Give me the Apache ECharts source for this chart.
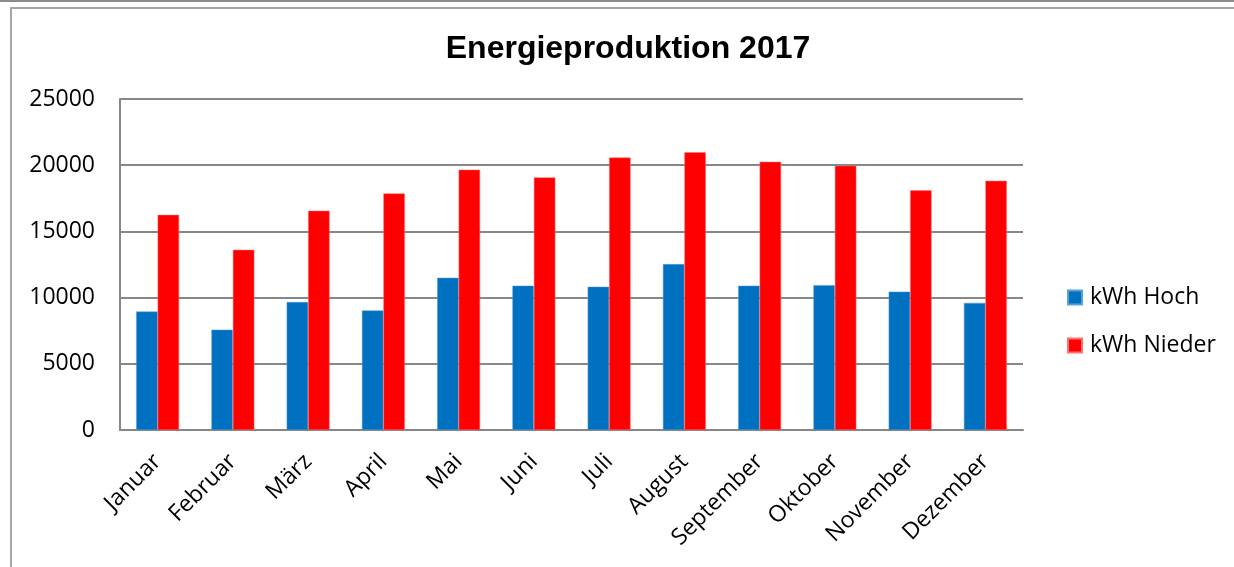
<!DOCTYPE html>
<html>
<head>
<meta charset="utf-8">
<script src="https://cdn.jsdelivr.net/npm/echarts@6/dist/echarts.min.js"></script>
<style>
html,body{margin:0;padding:0;background:#fff;}
#chart{width:1234px;height:567px;}
</style>
</head>
<body>
<div id="chart"></div>
<script>
const titleText = 'Energieproduktion 2017';
const months = ['Januar','Februar','März','April','Mai','Juni','Juli','August','September','Oktober','November','Dezember'];
const seriesNames = ['kWh Hoch','kWh Nieder'];
const kwhHoch = [8950, 7580, 9670, 9030, 11500, 10900, 10820, 12530, 10900, 10940, 10450, 9600];
const kwhNieder = [16250, 13610, 16560, 17870, 19660, 19080, 20580, 20980, 20260, 19960, 18100, 18820];
const yTicks = {min: 0, max: 25000, interval: 5000};

const chart = echarts.init(document.getElementById('chart'), null, {renderer: 'canvas'});
const baseFont = '"Open Sans", sans-serif';
chart.setOption({
  animation: false,
  backgroundColor: '#ffffff',
  title: {
    text: titleText,
    left: 623,
    textAlign: 'center',
    top: 28,
    textStyle: {fontFamily: '"Liberation Sans", Arial, sans-serif', fontWeight: 'bold', fontSize: 32, color: '#000'}
  },
  legend: {
    orient: 'vertical',
    left: 1062,
    top: 281,
    itemWidth: 14,
    itemHeight: 14,
    itemGap: 25,
    icon: 'rect',
    textStyle: {fontFamily: baseFont, fontSize: 23, color: '#000', padding: [0,0,0,3]},
    data: seriesNames
  },
  grid: {left: 120, right: 211, top: 99, bottom: 137, containLabel: false},
  xAxis: {
    type: 'category',
    data: months,
    axisLine: {show: true, lineStyle: {color: '#878787', width: 2}},
    axisTick: {show: false},
    axisLabel: {rotate: 45, margin: 28, fontFamily: baseFont, fontSize: 23, color: '#000', interval: 0}
  },
  yAxis: {
    type: 'value',
    min: yTicks.min,
    max: yTicks.max,
    interval: yTicks.interval,
    axisLine: {show: true, lineStyle: {color: '#878787', width: 2}},
    axisTick: {show: false},
    splitLine: {lineStyle: {color: '#878787', width: 2}},
    axisLabel: {margin: 25, fontFamily: baseFont, fontSize: 23, color: '#000', formatter: v => String(v)}
  },
  series: [
    {name: seriesNames[0], type: 'bar', data: kwhHoch, barGap: '0%', barCategoryGap: '43%',
     itemStyle: {color: '#0070C0', borderColor: '#5a9fd8', borderWidth: 0.5}},
    {name: seriesNames[1], type: 'bar', data: kwhNieder, barGap: '0%', barCategoryGap: '43%',
     itemStyle: {color: '#FF0000', borderColor: '#ff7070', borderWidth: 0.5}}
  ],
  graphic: [
    {type: 'line', shape: {x1: 0, y1: 1, x2: 1234, y2: 1}, style: {stroke: '#8c8c8c', lineWidth: 2}, silent: true},
    {type: 'rect', shape: {x: 11, y: 8, width: 1300, height: 700}, style: {fill: null, stroke: '#a6a6a6', lineWidth: 2}, silent: true}
  ]
});
</script>
</body>
</html>
